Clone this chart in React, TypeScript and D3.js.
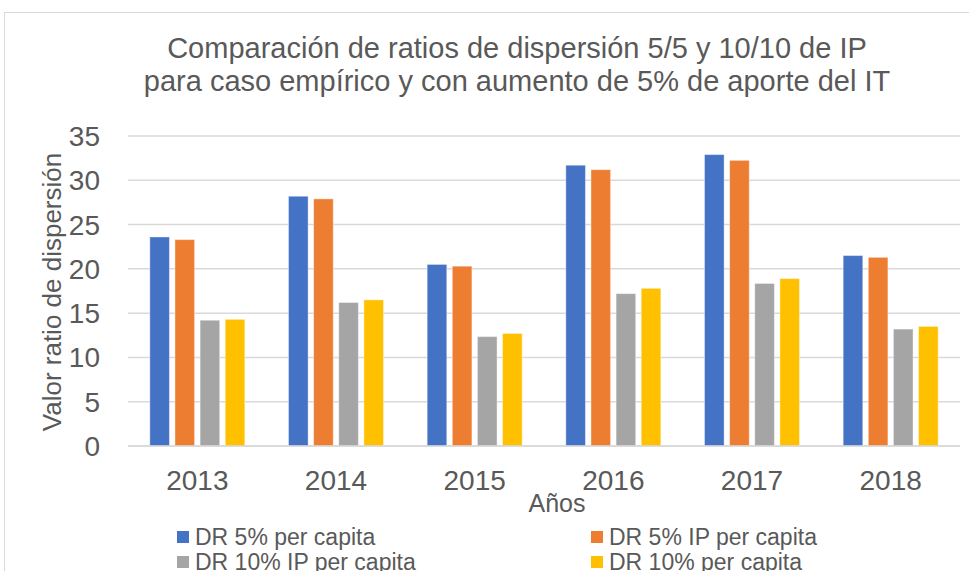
import { useEffect, useRef } from 'react'
import * as d3 from 'd3'

const YEARS = ['2013', '2014', '2015', '2016', '2017', '2018']
const SERIES = ['DR 5% per capita', 'DR 5% IP per capita', 'DR 10% IP per capita', 'DR 10% per capita']
const COLORS = ['#4472C4', '#ED7D31', '#A5A5A5', '#FFC000']

const DR5 = [23.6, 28.2, 20.5, 31.7, 32.9, 21.5]
const DR5_IP = [23.3, 27.9, 20.3, 31.2, 32.25, 21.3]
const DR10_IP = [14.2, 16.2, 12.35, 17.2, 18.35, 13.2]
const DR10 = [14.3, 16.5, 12.7, 17.8, 18.9, 13.5]

const Y_TICKS = [0, 5, 10, 15, 20, 25, 30, 35]

const TITLE_LINES = [
  'Comparación de ratios de dispersión 5/5 y 10/10 de IP',
  'para caso empírico y con aumento de 5% de aporte del IT',
]

const WIDTH = 969
const HEIGHT = 571
const TEXT = '#595959'
const GRID = '#D9D9D9'
const FONT = '"Liberation Sans", Arial, sans-serif'

export default function App() {
  const ref = useRef<SVGSVGElement>(null)

  useEffect(() => {
    if (!ref.current) return
    const svg = d3.select(ref.current)
    svg.selectAll('*').remove()

    const margin = { top: 136, right: 9, bottom: 125, left: 128 }
    const innerW = WIDTH - margin.left - margin.right
    const innerH = HEIGHT - margin.top - margin.bottom

    const rows = [DR5, DR5_IP, DR10_IP, DR10]

    // chart frame
    svg.append('rect')
      .attr('x', 4.5)
      .attr('y', 12.5)
      .attr('width', 1000)
      .attr('height', 600)
      .attr('fill', '#fff')
      .attr('stroke', GRID)

    svg.selectAll('text.title')
      .data(TITLE_LINES)
      .enter()
      .append('text')
      .attr('class', 'title')
      .attr('x', 517)
      .attr('y', (_, i) => 58 + i * 33)
      .attr('text-anchor', 'middle')
      .attr('fill', TEXT)
      .attr('font-size', '29px')
      .text((d) => d)

    const g = svg.append('g').attr('transform', `translate(${margin.left},${margin.top})`)

    const x0 = d3.scaleBand().domain(YEARS).range([0, innerW]).padding(0)
    const groupW = 95
    const x1 = d3
      .scaleBand()
      .domain(SERIES)
      .range([(x0.bandwidth() - groupW) / 2, (x0.bandwidth() + groupW) / 2])
      .paddingInner(0.22)
      .paddingOuter(0)

    const y = d3.scaleLinear().domain([0, 35]).range([innerH, 0])

    // gridlines
    g.append('g')
      .selectAll('line')
      .data(Y_TICKS)
      .enter()
      .append('line')
      .attr('x1', 0)
      .attr('x2', innerW)
      .attr('y1', (d) => y(d))
      .attr('y2', (d) => y(d))
      .attr('stroke', GRID)
      .attr('stroke-width', 1.5)

    g.append('g')
      .selectAll('text')
      .data(Y_TICKS)
      .enter()
      .append('text')
      .attr('x', -28)
      .attr('y', (d) => y(d) + 10)
      .attr('text-anchor', 'end')
      .attr('fill', TEXT)
      .attr('font-size', '28px')
      .text((d) => d)

    // bars
    YEARS.forEach((year, i) => {
      const grp = g.append('g').attr('transform', `translate(${x0(year)},0)`)
      SERIES.forEach((s, j) => {
        const v = rows[j][i]
        grp.append('rect')
          .attr('x', x1(s)!)
          .attr('y', y(v))
          .attr('width', x1.bandwidth())
          .attr('height', innerH - y(v))
          .attr('fill', COLORS[j])
          .attr('stroke', '#fff')
          .attr('stroke-opacity', 0.4)
          .attr('stroke-width', 1)
      })
    })

    g.append('line')
      .attr('x1', 0)
      .attr('x2', innerW)
      .attr('y1', innerH)
      .attr('y2', innerH)
      .attr('stroke', GRID)
      .attr('stroke-width', 1.5)

    g.append('g')
      .selectAll('text')
      .data(YEARS)
      .enter()
      .append('text')
      .attr('x', (d) => x0(d)! + x0.bandwidth() / 2)
      .attr('y', innerH + 44)
      .attr('text-anchor', 'middle')
      .attr('fill', TEXT)
      .attr('font-size', '28px')
      .text((d) => d)

    svg.append('text')
      .attr('x', 557)
      .attr('y', 512)
      .attr('text-anchor', 'middle')
      .attr('fill', TEXT)
      .attr('font-size', '25px')
      .text('Años')

    svg.append('text')
      .attr('transform', `translate(61,292) rotate(-90)`)
      .attr('text-anchor', 'middle')
      .attr('fill', TEXT)
      .attr('font-size', '26px')
      .text('Valor ratio de dispersión')

    // legend, 2 columns
    const legend = svg.append('g')
    SERIES.forEach((s, j) => {
      const lx = j % 2 === 0 ? 177 : 591
      const ly = 531 + Math.floor(j / 2) * 25
      legend.append('rect')
        .attr('x', lx)
        .attr('y', ly)
        .attr('width', 12)
        .attr('height', 12)
        .attr('fill', COLORS[j])
      legend.append('text')
        .attr('x', lx + 18)
        .attr('y', ly + 14)
        .attr('fill', TEXT)
        .attr('font-size', '23px')
        .text(s)
    })
  }, [])

  return (
    <svg
      ref={ref}
      width={WIDTH}
      height={HEIGHT}
      style={{ position: 'absolute', left: 0, top: 0, fontFamily: FONT, background: '#fff' }}
    />
  )
}
